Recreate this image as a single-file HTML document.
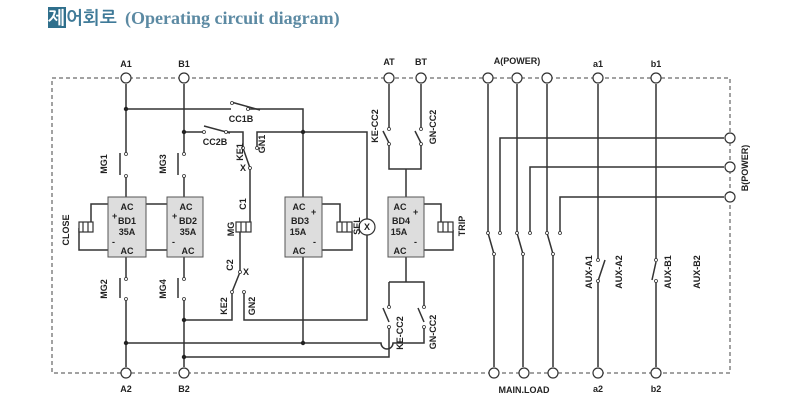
<!DOCTYPE html>
<html><head><meta charset="utf-8"><style>
html,body{margin:0;padding:0;background:#fff;}
svg{display:block}
text{font-family:"Liberation Sans",Arial,sans-serif;font-weight:bold;font-size:9px;fill:#222}
</style></head><body>
<svg width="800" height="400" viewBox="0 0 800 400" xmlns="http://www.w3.org/2000/svg">
<!-- title -->
<rect x="48" y="7" width="18" height="21" fill="#2f6f8c"/>
<text x="48" y="24" style="font-family:'Liberation Sans','NanumGothic','Noto Sans CJK KR',sans-serif;font-size:18px;fill:#fff">제</text>
<text x="66" y="24" style="font-family:'Liberation Sans','NanumGothic','Noto Sans CJK KR',sans-serif;font-size:18px;fill:#3f7a98">어회로</text>
<text x="125" y="24" style="font-family:'Liberation Serif',serif;font-size:18px;fill:#5c8aa3">(Operating circuit diagram)</text>

<g stroke="#333" stroke-width="1" fill="none">
<!-- frame -->
<rect x="52" y="78" width="678" height="295" stroke-dasharray="4,3" stroke="#444"/>
<g stroke="#333" stroke-width="1.5">
<path d="M126 84V154M126 176V279M126 299V367"/>
<path d="M120 153V175M120 278V298"/>
<path d="M184 84V154M184 176V279M184 299V367"/>
<path d="M178 153V175M178 278V298"/>
<path d="M126 109H231M248 109H303V197M303 257V343"/>
<path d="M231 102L260 110"/>
<path d="M184 132H204M226 132H243V148"/>
<path d="M204 126L230 133"/>
<path d="M243 148L250 168V222"/>
<path d="M303 132H257V148"/>
<path d="M303 132H367V219M367 235V320H244V292"/>
<path d="M240 232V272L232 292V320H184"/>
<path d="M146 204H167M146 250H167"/>
<path d="M108 204H91V222M108 250H79V228"/>
<path d="M322 204H340V222M322 250H352V230"/>
<path d="M126 343H381A6 6 0 0 0 393 343H424V327"/>
<path d="M184 357H389V328"/>
<path d="M389 84V129M389 144V169H421V144M421 129V84M406 169V197M406 257V282"/>
<path d="M383 131L389 143M415 131L421 143"/>
<path d="M389 282H424V306M389 282V306"/>
<path d="M383 308L389 322M418 308L424 322"/>
<path d="M424 204H441V222M424 250H453V230"/>
<path d="M488 84V233L494 254V367M517 84V233L523 254V367M547 84V233L553 254V367"/>
<path d="M500 233V138H724M530 233V167H724M560 233V197H724"/>
<path d="M598 84V260M598 281L605 260"/>
<path d="M656 84V260M656 281V367M656 262L652 280"/>
<path d="M598 282V367"/>
</g>
<g fill="#ddd" stroke="#555">
<rect x="108" y="197" width="38" height="60"/>
<rect x="167" y="197" width="36" height="60"/>
<rect x="285" y="197" width="37" height="60"/>
<rect x="388" y="197" width="36" height="60"/>
</g>
<g stroke="#333" fill="#fff" stroke-width="1.2">
<rect x="79" y="222" width="14" height="10"/><path d="M83 222V232M88 222V232"/>
<rect x="236" y="222" width="15" height="10"/><path d="M241 222V232M246 222V232"/>
<rect x="337" y="222" width="15" height="10"/><path d="M342 222V232M347 222V232"/>
<rect x="438" y="222" width="15" height="10"/><path d="M443 222V232M448 222V232"/>
<circle cx="367" cy="227" r="8"/>
</g>
<g fill="#fff" stroke="#333" stroke-width="1.2">
<circle cx="126" cy="78" r="5"/><circle cx="184" cy="78" r="5"/><circle cx="389" cy="78" r="5"/><circle cx="421" cy="78" r="5"/>
<circle cx="488" cy="78" r="5"/><circle cx="517" cy="78" r="5"/><circle cx="547" cy="78" r="5"/><circle cx="598" cy="78" r="5"/><circle cx="656" cy="78" r="5"/>
<circle cx="126" cy="373" r="5"/><circle cx="184" cy="373" r="5"/><circle cx="494" cy="373" r="5"/><circle cx="524" cy="373" r="5"/><circle cx="553" cy="373" r="5"/><circle cx="598" cy="373" r="5"/><circle cx="656" cy="373" r="5"/>
<circle cx="730" cy="138" r="5"/><circle cx="730" cy="167" r="5"/><circle cx="730" cy="197" r="5"/>
</g>
<g fill="#fff" stroke="#333" stroke-width="0.8">
<circle cx="126" cy="154" r="1.5"/><circle cx="126" cy="176" r="1.5"/><circle cx="184" cy="154" r="1.5"/><circle cx="184" cy="176" r="1.5"/>
<circle cx="126" cy="279" r="1.5"/><circle cx="126" cy="299" r="1.5"/><circle cx="184" cy="279" r="1.5"/><circle cx="184" cy="299" r="1.5"/>
<circle cx="232" cy="103" r="1.5"/><circle cx="248" cy="109" r="1.5"/><circle cx="204" cy="132" r="1.5"/><circle cx="226" cy="132" r="1.5"/>
<circle cx="243" cy="148" r="1.5"/><circle cx="257" cy="148" r="1.5"/><circle cx="250" cy="168" r="1.5"/>
<circle cx="240" cy="272" r="1.5"/><circle cx="232" cy="292" r="1.5"/><circle cx="244" cy="292" r="1.5"/>
<circle cx="389" cy="129" r="1.5"/><circle cx="389" cy="144" r="1.5"/><circle cx="421" cy="129" r="1.5"/><circle cx="421" cy="144" r="1.5"/>
<circle cx="389" cy="307" r="1.5"/><circle cx="389" cy="327" r="1.5"/><circle cx="424" cy="307" r="1.5"/><circle cx="424" cy="327" r="1.5"/>
<circle cx="488" cy="233" r="1.5"/><circle cx="500" cy="233" r="1.5"/><circle cx="494" cy="254" r="1.5"/>
<circle cx="517" cy="233" r="1.5"/><circle cx="530" cy="233" r="1.5"/><circle cx="523" cy="254" r="1.5"/>
<circle cx="547" cy="233" r="1.5"/><circle cx="560" cy="233" r="1.5"/><circle cx="553" cy="254" r="1.5"/>
<circle cx="598" cy="260" r="1.5"/><circle cx="598" cy="281" r="1.5"/><circle cx="656" cy="260" r="1.5"/><circle cx="656" cy="281" r="1.5"/>
</g>
<g fill="#222" stroke="none">
<circle cx="126" cy="109" r="2.2"/><circle cx="184" cy="132" r="2.2"/><circle cx="303" cy="132" r="2.2"/>
<circle cx="184" cy="320" r="2.2"/><circle cx="126" cy="343" r="2.2"/><circle cx="303" cy="343" r="2.2"/><circle cx="184" cy="357" r="2.2"/>
</g>
</g>

<g text-anchor="middle">
<text x="126" y="67">A1</text><text x="184" y="67">B1</text><text x="389" y="65">AT</text><text x="421" y="65">BT</text>
<text x="517" y="64">A(POWER)</text><text x="598" y="67">a1</text><text x="656" y="67">b1</text>
<text x="126" y="392">A2</text><text x="184" y="392">B2</text><text x="524" y="393">MAIN.LOAD</text><text x="598" y="392">a2</text><text x="656" y="392">b2</text>
<text x="241" y="122">CC1B</text><text x="215" y="145">CC2B</text>
<text x="127" y="210">AC</text><text x="127" y="224">BD1</text><text x="127" y="235">35A</text><text x="127" y="254">AC</text>
<text x="186" y="210">AC</text><text x="188" y="224">BD2</text><text x="188" y="235">35A</text><text x="188" y="254">AC</text>
<text x="299" y="210">AC</text><text x="300" y="224">BD3</text><text x="298" y="235">15A</text><text x="299" y="254">AC</text>
<text x="400" y="210">AC</text><text x="401" y="224">BD4</text><text x="399" y="235">15A</text><text x="400" y="254">AC</text>
<text x="367" y="230">X</text>
<text x="243" y="171">X</text><text x="246" y="275">X</text>
</g>
<g>
<text x="112" y="219">+</text><text x="112" y="245">-</text>
<text x="172" y="219">+</text><text x="172" y="245">-</text>
<text x="311" y="215">+</text><text x="313" y="245">-</text>
<text x="413" y="215">+</text><text x="414" y="245">-</text>
</g>
<g text-anchor="middle">
<text transform="translate(107,164) rotate(-90)">MG1</text>
<text transform="translate(166,164) rotate(-90)">MG3</text>
<text transform="translate(107,289) rotate(-90)">MG2</text>
<text transform="translate(166,289) rotate(-90)">MG4</text>
<text transform="translate(69,230) rotate(-90)">CLOSE</text>
<text transform="translate(243,152) rotate(-90)">KE1</text>
<text transform="translate(265,144) rotate(-90)">GN1</text>
<text transform="translate(246,204) rotate(-90)">C1</text>
<text transform="translate(234,229) rotate(-90)">MG</text>
<text transform="translate(233,265) rotate(-90)">C2</text>
<text transform="translate(227,306) rotate(-90)">KE2</text>
<text transform="translate(255,306) rotate(-90)">GN2</text>
<text transform="translate(360,226) rotate(-90)">SEL</text>
<text transform="translate(378,126) rotate(-90)">KE-CC2</text>
<text transform="translate(436,127) rotate(-90)">GN-CC2</text>
<text transform="translate(403,333) rotate(-90)">KE-CC2</text>
<text transform="translate(436,332) rotate(-90)">GN-CC2</text>
<text transform="translate(465,226) rotate(-90)">TRIP</text>
<text transform="translate(592,272) rotate(-90)">AUX-A1</text>
<text transform="translate(622,272) rotate(-90)">AUX-A2</text>
<text transform="translate(671,272) rotate(-90)">AUX-B1</text>
<text transform="translate(700,272) rotate(-90)">AUX-B2</text>
<text transform="translate(748,168) rotate(-90)">B(POWER)</text>
</g>
</svg>
</body></html>
